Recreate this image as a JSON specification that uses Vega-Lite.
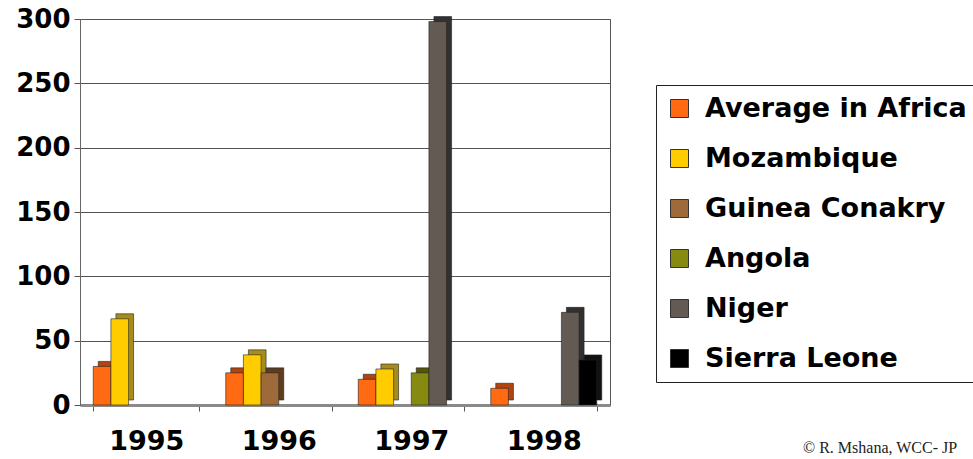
{
  "$schema": "https://vega.github.io/schema/vega-lite/v6.json",
  "autosize": {"type": "none"},
  "width": 530,
  "height": 386,
  "padding": {"left": 80, "top": 19, "right": 363, "bottom": 54},
  "background": "white",
  "title": {
    "text": "© R. Mshana, WCC- JP",
    "orient": "bottom",
    "anchor": "end",
    "frame": "group",
    "align": "left",
    "font": "Liberation Serif",
    "fontSize": 16,
    "fontWeight": "normal",
    "color": "#222",
    "offset": -14,
    "dx": 193
  },
  "config": {
    "view": {"stroke": "#555", "strokeWidth": 1},
    "axis": {
      "labelFont": "DejaVu Sans",
      "labelFontWeight": "bold",
      "labelColor": "black",
      "title": null,
      "domainColor": "#777",
      "tickColor": "#555"
    },
    "legend": {
      "orient": "none",
      "legendX": 576,
      "legendY": 66,
      "strokeColor": "#222",
      "fillColor": "white",
      "padding": 10,
      "rowPadding": 22,
      "symbolType": "square",
      "symbolSize": 324,
      "symbolStrokeColor": "#333",
      "symbolStrokeWidth": 1,
      "symbolOpacity": 1,
      "labelFont": "DejaVu Sans",
      "labelFontWeight": "bold",
      "labelFontSize": 27,
      "labelColor": "black",
      "labelOffset": 12,
      "labelLimit": 400
    }
  },
  "data": {
    "values": [
      {"year": "1995", "country": "Average in Africa", "value": 30},
      {"year": "1995", "country": "Mozambique", "value": 67},
      {"year": "1996", "country": "Average in Africa", "value": 25},
      {"year": "1996", "country": "Mozambique", "value": 39},
      {"year": "1996", "country": "Guinea Conakry", "value": 25},
      {"year": "1997", "country": "Average in Africa", "value": 20},
      {"year": "1997", "country": "Mozambique", "value": 28},
      {"year": "1997", "country": "Angola", "value": 25},
      {"year": "1997", "country": "Niger", "value": 298},
      {"year": "1998", "country": "Average in Africa", "value": 13},
      {"year": "1998", "country": "Niger", "value": 72},
      {"year": "1998", "country": "Sierra Leone", "value": 35}
    ]
  },
  "encoding": {
    "x": {
      "field": "year",
      "type": "nominal",
      "scale": {"paddingInner": 0.2, "paddingOuter": 0.1},
      "axis": {
        "labelAngle": 0,
        "labelFontSize": 27,
        "tickBand": "extent",
        "tickSize": 6,
        "labelPadding": 17,
        "domainWidth": 3,
        "domainColor": "#8a8a8a"
      }
    },
    "y": {
      "field": "value",
      "type": "quantitative",
      "scale": {"domain": [0, 300], "nice": false},
      "axis": {
        "values": [0, 50, 100, 150, 200, 250, 300],
        "labelFontSize": 26,
        "tickSize": 6,
        "labelPadding": 4,
        "gridColor": "#555",
        "gridWidth": 1,
        "domainColor": "#666"
      }
    }
  },
  "layer": [
    {
      "mark": {"type": "bar", "yOffset": -5, "stroke": "#222", "strokeWidth": 0.6},
      "encoding": {
        "xOffset": {
          "field": "country",
          "type": "nominal",
          "scale": {
            "domain": ["Average in Africa", "Mozambique", "Guinea Conakry", "Angola", "Niger", "Sierra Leone"],
            "range": [5, 111],
            "paddingInner": 0,
            "paddingOuter": 0
          }
        },
        "color": {
          "field": "country",
          "type": "nominal",
          "legend": null,
          "scale": {
            "domain": ["Average in Africa", "Mozambique", "Guinea Conakry", "Angola", "Niger", "Sierra Leone"],
            "range": ["#B04510", "#A68C1E", "#5E3C1E", "#55550A", "#333030", "#111111"]
          }
        }
      }
    },
    {
      "mark": {"type": "bar", "stroke": "#222", "strokeWidth": 0.6},
      "encoding": {
        "xOffset": {
          "field": "country",
          "type": "nominal",
          "scale": {
            "domain": ["Average in Africa", "Mozambique", "Guinea Conakry", "Angola", "Niger", "Sierra Leone"],
            "range": [0, 106],
            "paddingInner": 0,
            "paddingOuter": 0
          }
        },
        "color": {
          "field": "country",
          "type": "nominal",
          "title": null,
          "scale": {
            "domain": ["Average in Africa", "Mozambique", "Guinea Conakry", "Angola", "Niger", "Sierra Leone"],
            "range": ["#FF6A12", "#FFCC00", "#9E6A3A", "#868A10", "#635B53", "#000000"]
          }
        }
      }
    }
  ],
  "resolve": {"scale": {"color": "independent", "xOffset": "independent"}}
}
